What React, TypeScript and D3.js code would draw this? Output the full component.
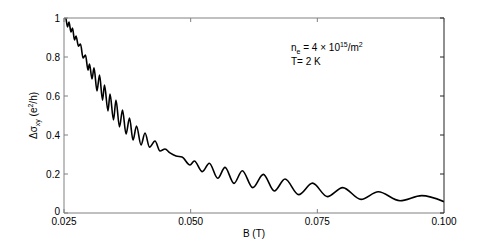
import * as d3 from 'd3';
import React, {useEffect, useRef} from "react";

const WIDTH = 491;
const HEIGHT = 240;
const M = {left: 64, right: 47, top: 18, bottom: 27};

// field (T) at the peaks and troughs
const fieldB = [
    0.0250, 0.02530, 0.02569, 0.02599, 0.02638, 0.02668, 0.02707, 0.02737, 0.02786, 0.02826,
    0.02875, 0.02924, 0.02974, 0.03003, 0.03053, 0.03092, 0.03151, 0.03201, 0.03260, 0.03299,
    0.03368, 0.03408, 0.03477, 0.03526, 0.03595, 0.03655, 0.03724, 0.03793, 0.03862, 0.03931,
    0.04020, 0.04099, 0.04188, 0.04296, 0.04395, 0.04493, 0.04592, 0.04711, 0.04829, 0.04987,
    0.05072, 0.05230, 0.05368, 0.05534, 0.05678, 0.05855, 0.06019, 0.06224, 0.06434, 0.06651,
    0.06862, 0.07132, 0.07405, 0.07697, 0.08001, 0.08362, 0.08703, 0.09132, 0.09560, 0.1000
];
// delta sigma_xy (e^2/h)
const dSigma = [
    0.995, 1.005, 0.954, 0.979, 0.928, 0.949, 0.887, 0.908, 0.856, 0.867,
    0.795, 0.810, 0.733, 0.764, 0.687, 0.744, 0.626, 0.708, 0.579, 0.656,
    0.523, 0.610, 0.477, 0.579, 0.441, 0.528, 0.405, 0.487, 0.374, 0.446,
    0.349, 0.410, 0.338, 0.369, 0.318, 0.328, 0.308, 0.292, 0.287, 0.246,
    0.267, 0.212, 0.255, 0.178, 0.234, 0.152, 0.217, 0.130, 0.198, 0.113,
    0.174, 0.094, 0.153, 0.084, 0.130, 0.070, 0.109, 0.063, 0.089, 0.058
];
const xTicks = [0.025, 0.05, 0.075, 0.1];
const xTickLabels = ["0.025", "0.050", "0.075", "0.100"];
const yTicks = [0, 0.2, 0.4, 0.6, 0.8, 1];
const yTickLabels = ["0", "0.2", "0.4", "0.6", "0.8", "1"];

const FONT = "Liberation Sans, Arial, sans-serif";
const AXIS_COLOR = "#808080";

export default function App() {
    const ref = useRef<SVGSVGElement>(null);

    useEffect(() => {
        const svg = d3.select(ref.current);
        svg.selectAll('*').remove();

        const x0 = M.left, x1 = WIDTH - M.right;
        const y0 = HEIGHT - M.bottom, y1 = M.top;
        const x = d3.scaleLinear().domain([0.025, 0.1]).range([x0, x1]);
        const y = d3.scaleLinear().domain([0, 1]).range([y0, y1]);

        svg.append('defs').append('clipPath').attr('id', 'plotclip')
            .append('rect').attr('x', x0).attr('y', y1).attr('width', x1 - x0).attr('height', y0 - y1);

        const pts = fieldB.map((b, i) => [b, dSigma[i]] as [number, number]);
        const line = d3.line<[number, number]>()
            .x(d => x(d[0]))
            .y(d => y(d[1]))
            .curve(d3.curveMonotoneX);

        svg.append('path')
            .attr('d', line(pts))
            .attr('clip-path', 'url(#plotclip)')
            .attr('fill', 'none')
            .attr('stroke', '#000')
            .attr('stroke-width', 1.6)
            .attr('stroke-linejoin', 'round');

        // frame
        const g = svg.append('g').attr('stroke', AXIS_COLOR).attr('stroke-width', 1).attr('fill', 'none');
        g.append('line').attr('x1', x0).attr('x2', x0).attr('y1', y1).attr('y2', y0);
        g.append('line').attr('x1', x0).attr('x2', x1).attr('y1', y0).attr('y2', y0);
        g.append('line').attr('x1', x0).attr('x2', x1).attr('y1', y1).attr('y2', y1);
        g.append('line').attr('x1', x1).attr('x2', x1).attr('y1', y1).attr('y2', y0).attr('stroke', '#222');

        const TL = 4;
        xTicks.forEach(t => {
            g.append('line').attr('x1', x(t)).attr('x2', x(t)).attr('y1', y0).attr('y2', y0 - TL);
            g.append('line').attr('x1', x(t)).attr('x2', x(t)).attr('y1', y1).attr('y2', y1 + TL);
        });
        yTicks.forEach(t => {
            g.append('line').attr('x1', x0).attr('x2', x0 + TL).attr('y1', y(t)).attr('y2', y(t));
            g.append('line').attr('x1', x1).attr('x2', x1 - TL).attr('y1', y(t)).attr('y2', y(t)).attr('stroke', '#222');
        });

        const txt = svg.append('g').attr('font-family', FONT).attr('font-size', 10).attr('fill', '#000');
        xTicks.forEach((t, i) => {
            txt.append('text').attr('x', x(t)).attr('y', y0 + 12).attr('text-anchor', 'middle').text(xTickLabels[i]);
        });
        yTicks.forEach((t, i) => {
            txt.append('text').attr('x', x0 - 4).attr('y', t === 0 ? y(t) - 2 : y(t))
                .attr('dy', '0.35em').attr('text-anchor', 'end').text(yTickLabels[i]);
        });

        txt.append('text').attr('x', (x0 + x1) / 2).attr('y', 237).attr('text-anchor', 'middle').text('B (T)');

        const yl = txt.append('text')
            .attr('transform', `translate(37,${(y0 + y1) / 2}) rotate(-90)`)
            .attr('text-anchor', 'middle');
        yl.append('tspan').text('Δσ');
        yl.append('tspan').attr('font-size', 7).attr('dy', 3).text('xy');
        yl.append('tspan').attr('dy', -3).text(' (e');
        yl.append('tspan').attr('font-size', 7).attr('dy', -4).text('2');
        yl.append('tspan').attr('dy', 4).text('/h)');

        const n = txt.append('text').attr('x', 291).attr('y', 51);
        n.append('tspan').text('n');
        n.append('tspan').attr('font-size', 7).attr('dy', 3).text('e');
        n.append('tspan').attr('dy', -3).text(' = 4 × 10');
        n.append('tspan').attr('font-size', 7).attr('dy', -4).text('15');
        n.append('tspan').attr('dy', 4).text('/m');
        n.append('tspan').attr('font-size', 7).attr('dy', -4).text('2');

        txt.append('text').attr('x', 291).attr('y', 65).text('T= 2 K');
    }, []);

    return (
        <svg ref={ref} width={WIDTH} height={HEIGHT}
             style={{position: 'absolute', left: 0, top: 0, background: '#fff'}}/>
    );
}
